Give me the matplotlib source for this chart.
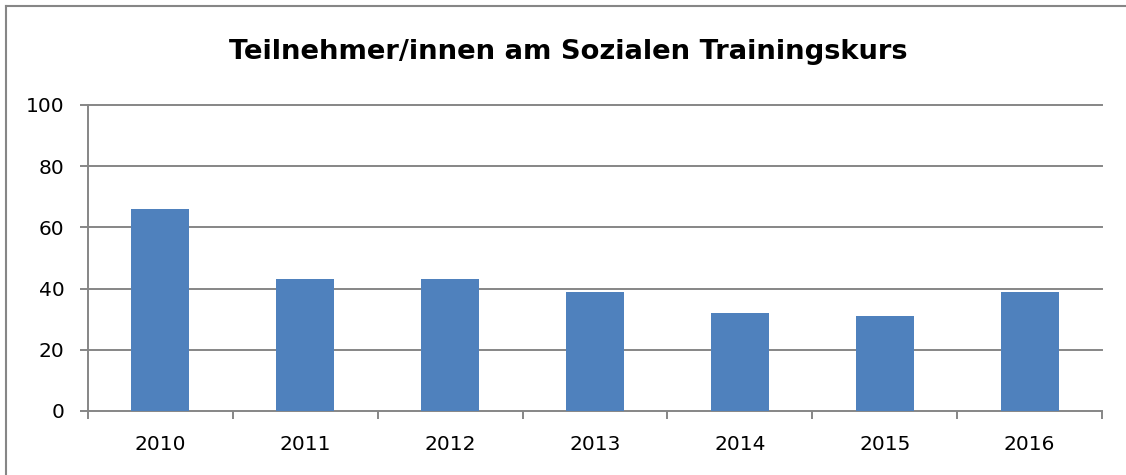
import matplotlib.pyplot as plt
from matplotlib.lines import Line2D
import numpy as np

years = ["2010", "2011", "2012", "2013", "2014", "2015", "2016"]
teilnehmer = [66, 43, 43, 39, 32, 31, 39]
y_ticks = [0, 20, 40, 60, 80, 100]

W, H = 1126, 475
fig = plt.figure(figsize=(W / 100, H / 100), dpi=100)
fig.patch.set_facecolor("white")

ax = fig.add_axes([88 / W, (H - 411) / H, (1102 - 88) / W, (411 - 105) / H])

x = np.arange(len(years))
ax.bar(x, teilnehmer, width=0.4, color="#4F81BD", zorder=3)

grid_c = "#868686"
ax.set_xlim(-0.5, len(years) - 0.5)
ax.set_ylim(0, 100)
ax.set_yticks(y_ticks)
ax.set_yticklabels([str(t) for t in y_ticks])
for t in y_ticks[1:]:
    ax.axhline(t, color=grid_c, lw=1.4, zorder=1, clip_on=False)

ax.set_xticks(x)
ax.set_xticklabels(years)
ax.set_xticks(np.arange(-0.5, len(years)), minor=True)
ax.tick_params(axis="x", which="major", length=0, pad=17, labelsize=14.5)
ax.tick_params(axis="x", which="minor", length=6, width=1.4, color=grid_c, direction="out")
ax.tick_params(axis="y", length=6, width=1.4, color=grid_c, direction="out", pad=11, labelsize=14.5)

for s in ["top", "right"]:
    ax.spines[s].set_visible(False)
for s in ["left", "bottom"]:
    ax.spines[s].set_color(grid_c)
    ax.spines[s].set_linewidth(1.4)

fig.text(568 / W, 1 - 52 / H, "Teilnehmer/innen am Sozialen Trainingskurs",
         ha="center", va="center", fontsize=19.7, fontweight="bold")

# chart border (top and left visible)
fig.add_artist(Line2D([5.5 / W, 1], [1 - 5.5 / H, 1 - 5.5 / H], color=grid_c, lw=1.5, transform=fig.transFigure))
fig.add_artist(Line2D([5.5 / W, 5.5 / W], [0, 1 - 5.5 / H], color=grid_c, lw=1.5, transform=fig.transFigure))

fig.savefig("out.png", dpi=100, facecolor="white")
